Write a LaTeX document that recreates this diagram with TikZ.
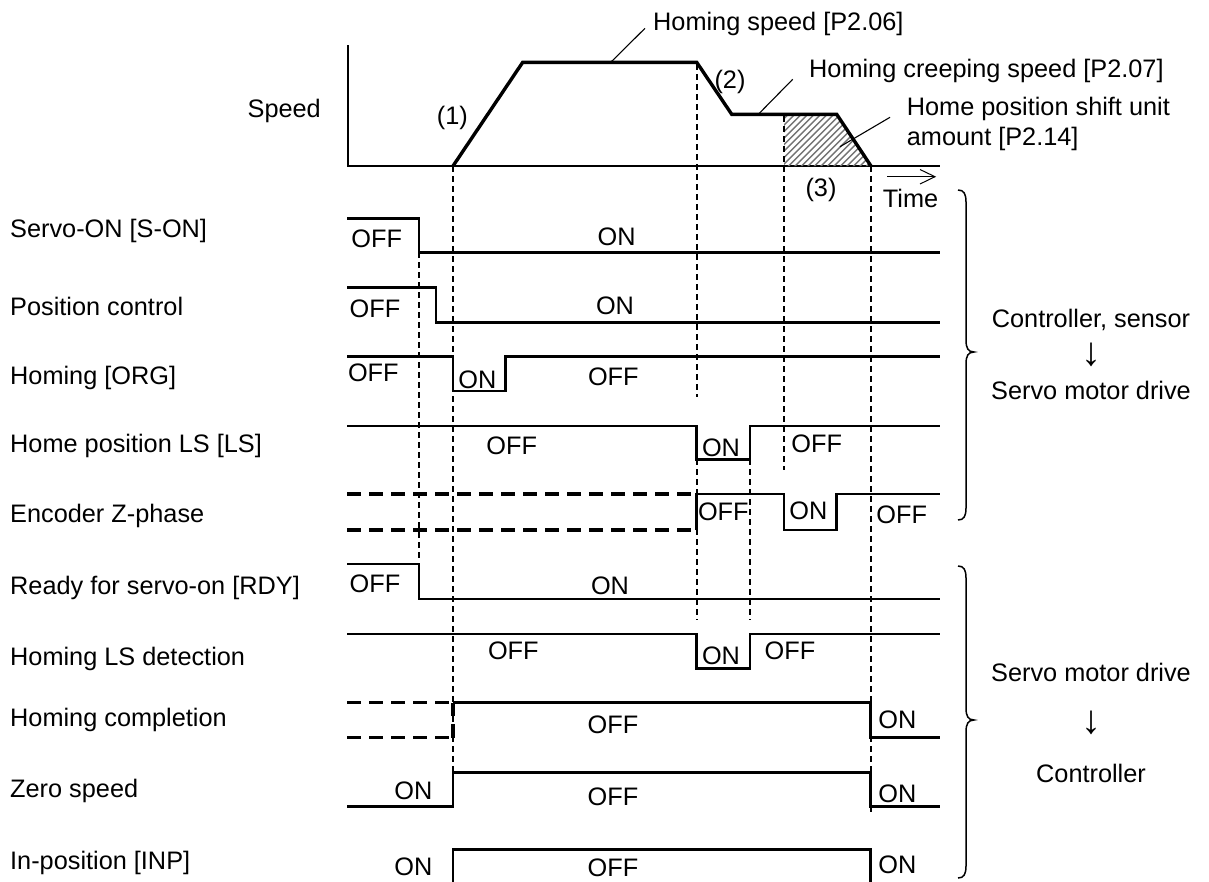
\documentclass[tikz,border=0pt]{standalone}
\usepackage{fontspec}
\setmainfont{Liberation Sans}
\begin{document}
\begin{tikzpicture}[x=1pt,y=-1pt,
  every node/.style={font=\fontsize{25.3}{30}\selectfont, inner sep=0pt},
  lbl/.style={anchor=base west},
  st/.style={anchor=center},
  arr/.style={anchor=center, font=\fontsize{40}{40}\selectfont},
  sig/.style={line width=2.7pt},
  prof/.style={line width=3.4pt},
  axisline/.style={line width=1.5pt},
  vdash/.style={line width=2pt, dash pattern=on 6pt off 4pt},
  unk/.style={line width=3.2pt, dash pattern=on 14pt off 8pt},
  lead/.style={line width=1.1pt},
  hatchl/.style={black!55, line width=1.4pt},
  bracel/.style={line width=1.5pt}]
\useasboundingbox (0,0) rectangle (1209,881);

% ---------- speed graph ----------
\draw[axisline] (348,45) -- (348,166) -- (940,166);
\coordinate (p0) at (453,166);
\coordinate (p1) at (522.7,62.3);
\coordinate (p2) at (696.7,62.3);
\coordinate (p3) at (731.7,114.3);
\coordinate (p4) at (836.7,114.3);
\coordinate (p5) at (871,166);
\begin{scope}
  \clip (784,166) -- (784,114.3) -- (p4) -- (p5) -- cycle;
  \foreach \i in {700,706.5,...,880} \draw[hatchl] (\i,170) -- ++(70,-70);
\end{scope}
\draw[prof] (p0) -- (p1) -- (p2) -- (p3) -- (p4) -- (p5);

\node[anchor=base east] (speed) at (321,117.4) {Speed};
\node[anchor=base] (n1) at (452.3,124.5) {(1)};
\node[anchor=base] (n2) at (730,88) {(2)};
\node[anchor=base] (n3) at (821,196.5) {(3)};
\node[lbl] (time) at (882.7,207.3) {Time};
\coordinate (ta) at (887,176.7);
\coordinate (tb) at (935,176.7);
\draw[line width=1pt] (ta) -- (tb);
\draw[line width=1pt] (920,169.5) -- (tb) -- (920,184);

\node[lbl] (hs) at (653,30.7) {Homing speed [P2.06]};
\node[lbl] (hc) at (809,77.3) {Homing creeping speed [P2.07]};
\node[anchor=north west, align=left] (hp) at (906.7,97.3) {Home position shift unit\\amount [P2.14]};
\coordinate (l1a) at (610.7,62.3);
\coordinate (l1b) at (645,28.3);
\coordinate (l2a) at (758.3,114.3);
\coordinate (l2b) at (792.7,79.3);
\coordinate (l3a) at (840,146.7);
\coordinate (l3b) at (890,117.3);
\draw[lead] (l1a) -- (l1b);
\draw[lead] (l2a) -- (l2b);
\draw[lead] (l3a) -- (l3b);

% ---------- dashed time markers ----------
\draw[vdash] (418.5,252.3) -- (418.5,560);
\draw[vdash] (453,166) -- (453,772);
\draw[vdash] (696.7,64) -- (696.7,397);
\draw[vdash] (696.7,459.3) -- (696.7,620);
\draw[vdash] (750,459.3) -- (750,620);
\draw[vdash] (784,116) -- (784,470);
\draw[vdash] (870.7,166) -- (870.7,815);

% ---------- signal labels ----------
\node[lbl] (s1) at (10,237.3) {Servo-ON [S-ON]};
\node[lbl] (s2) at (10,315) {Position control};
\node[lbl] (s3) at (10,384) {Homing [ORG]};
\node[lbl] (s4) at (10,452.3) {Home position LS [LS]};
\node[lbl] (s5) at (10,522.3) {Encoder Z-phase};
\node[lbl] (s6) at (10,594) {Ready for servo-on [RDY]};
\node[lbl] (s7) at (10,665.7) {Homing LS detection};
\node[lbl] (s8) at (10,726.3) {Homing completion};
\node[lbl] (s9) at (10,797.3) {Zero speed};
\node[lbl] (s10) at (10,869) {In-position [INP]};

% ---------- signals ----------
% S-ON
\draw[sig] (347,218.3) -- (419,218.3) -- (419,252.3) -- (940,252.3);
\node[st] (a1) at (376.7,239) {OFF};
\node[st] (a2) at (616.7,236.7) {ON};
% Position control
\draw[sig] (347,287.3) -- (436,287.3) -- (436,322.3) -- (940,322.3);
\node[st] (b1) at (375,308.3) {OFF};
\node[st] (b2) at (615,306) {ON};
% ORG
\draw[sig] (347,356.7) -- (453,356.7) -- (453,391) -- (505.7,391) -- (505.7,356.7) -- (940,356.7);
\node[st] (c1) at (373.3,372.7) {OFF};
\node[st] (c2) at (477.3,379.3) {ON};
\node[st] (c3) at (613.3,376.7) {OFF};
% LS
\draw[sig] (347,426) -- (696.7,426) -- (696.7,459.3) -- (750,459.3) -- (750,426) -- (940,426);
\node[st] (d1) at (511.7,446) {OFF};
\node[st] (d2) at (721,447.7) {ON};
\node[st] (d3) at (816.7,444) {OFF};
% Encoder Z-phase
\draw[unk] (347,494) -- (696.7,494);
\draw[unk] (347,530) -- (696.7,530);
\draw[sig] (696.7,530) -- (696.7,494) -- (784,494) -- (784,530) -- (836.7,530) -- (836.7,494) -- (940,494);
\node[st] (e1) at (723.3,511.7) {OFF};
\node[st] (e2) at (808.3,511) {ON};
\node[st] (e3) at (901.7,515) {OFF};
% RDY
\draw[sig] (347,564) -- (419,564) -- (419,599) -- (940,599);
\node[st] (f1) at (375,584) {OFF};
\node[st] (f2) at (610,586) {ON};
% Homing LS detection
\draw[sig] (347,634) -- (696.7,634) -- (696.7,668.3) -- (750,668.3) -- (750,634) -- (940,634);
\node[st] (g1) at (513.3,650.7) {OFF};
\node[st] (g2) at (721,656) {ON};
\node[st] (g3) at (790,650.7) {OFF};
% Homing completion
\draw[unk] (347,702.7) -- (453,702.7);
\draw[unk] (347,737.7) -- (453,737.7);
\draw[unk] (453,737.7) -- (453,702.7);
\draw[sig] (453,702.7) -- (870.7,702.7) -- (870.7,737.7) -- (940,737.7);
\node[st] (h1) at (613,725) {OFF};
\node[st] (h2) at (897.3,720) {ON};
% Zero speed
\draw[sig] (347,806.7) -- (453,806.7) -- (453,772.7) -- (870.7,772.7) -- (870.7,806.7) -- (940,806.7);
\node[st] (i1) at (413.3,790.7) {ON};
\node[st] (i2) at (613,796.7) {OFF};
\node[st] (i3) at (897.3,793.3) {ON};
% In-position
\draw[sig] (453,883) -- (453,849.3) -- (870.7,849.3) -- (870.7,883);
\node[st] (j1) at (413.3,866.7) {ON};
\node[st] (j2) at (613,868) {OFF};
\node[st] (j3) at (897.3,865) {ON};

% ---------- braces ----------
\draw[bracel] (958,190) .. controls (964,190) and (966,194) .. (966,202) -- (966,340)
  .. controls (966,348) and (968,352) .. (974,352)
  .. controls (968,352) and (966,356) .. (966,364) -- (966,508)
  .. controls (966,516) and (964,520) .. (958,520);
\draw[bracel] (958,566) .. controls (964,566) and (966,570) .. (966,578) -- (966,708)
  .. controls (966,716) and (968,720) .. (974,720)
  .. controls (968,720) and (966,724) .. (966,732) -- (966,866)
  .. controls (966,874) and (964,878) .. (958,878);

\node[anchor=base] (r1) at (1091,327) {Controller, sensor};
\node[arr] (r2) at (1091,355) {↓};
\node[anchor=base] (r3) at (1091,399) {Servo motor drive};
\node[anchor=base] (r4) at (1091,681.4) {Servo motor drive};
\node[arr] (r5) at (1091,723) {↓};
\node[anchor=base] (r6) at (1091,782.7) {Controller};
\end{tikzpicture}
\end{document}
